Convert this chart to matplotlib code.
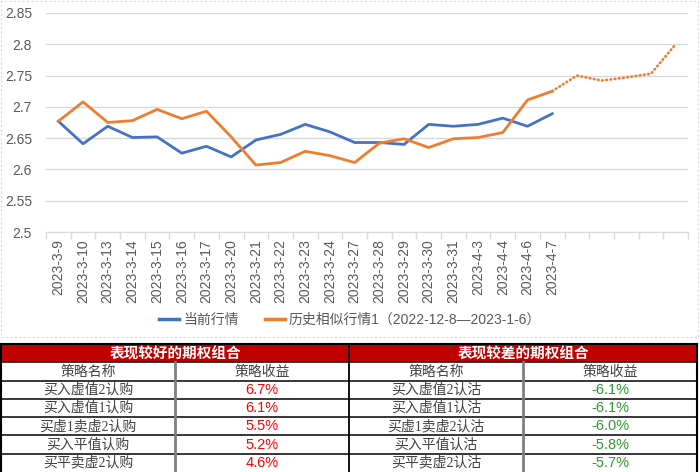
import matplotlib
matplotlib.use("Agg")
import matplotlib.pyplot as plt
from matplotlib.lines import Line2D
from matplotlib.patches import Rectangle
from matplotlib.ticker import FuncFormatter, FixedLocator

plt.rcParams['font.family'] = ['Liberation Sans', 'Noto Sans CJK SC', 'DejaVu Sans']

# ---- data ----
dates = ['2023-3-9', '2023-3-10', '2023-3-13', '2023-3-14', '2023-3-15', '2023-3-16',
         '2023-3-17', '2023-3-20', '2023-3-21', '2023-3-22', '2023-3-23', '2023-3-24',
         '2023-3-27', '2023-3-28', '2023-3-29', '2023-3-30', '2023-3-31', '2023-4-3',
         '2023-4-4', '2023-4-6', '2023-4-7']
n_blank = 5  # empty categories after the last date

current = [2.677, 2.641, 2.669, 2.651, 2.652, 2.626, 2.637, 2.620, 2.647, 2.656, 2.672,
           2.660, 2.643, 2.643, 2.640, 2.672, 2.669, 2.672, 2.682, 2.669, 2.689]
history = [2.677, 2.708, 2.675, 2.678, 2.696, 2.681, 2.693, 2.652, 2.607, 2.611, 2.629,
           2.622, 2.611, 2.642, 2.649, 2.635, 2.649, 2.651, 2.659, 2.711, 2.725]
history_future = [2.750, 2.742, 2.747, 2.753, 2.800]

label_cur = '当前行情'
label_hist = '历史相似行情1（2022-12-8—2023-1-6）'

good_title = '表现较好的期权组合'
bad_title = '表现较差的期权组合'
col_names = ['策略名称', '策略收益']
good_names = ['买入虚值2认购', '买入虚值1认购', '买虚1卖虚2认购', '买入平值认购', '买平卖虚2认购']
good_ret = ['6.7%', '6.1%', '5.5%', '5.2%', '4.6%']
bad_names = ['买入虚值2认沽', '买入虚值1认沽', '买虚1卖虚2认沽', '买入平值认沽', '买平卖虚2认沽']
bad_ret = ['-6.1%', '-6.1%', '-6.0%', '-5.8%', '-5.7%']

BLUE = '#4472C4'
ORANGE = '#ED7D31'
GRID = '#D9D9D9'
TXT = '#595959'

W, H = 700, 472
fig = plt.figure(figsize=(W / 100, H / 100), dpi=100)

# dashed frame of the chart area
fig.patches.append(Rectangle((1 / W, 1 - 337 / H), 697 / W, 336 / H, transform=fig.transFigure,
                             fill=False, ec=GRID, lw=0.8, ls=(0, (2, 2))))

# ---- line chart ----
ax = fig.add_axes([46 / W, 1 - 232 / H, 642 / W, 219 / H])
x_all = list(range(len(dates) + n_blank))
x_cur = x_all[:len(dates)]
x_fut = x_all[len(dates) - 1:]

ax.plot(x_cur, current, color=BLUE, lw=2, solid_joinstyle='round')
ax.plot(x_cur, history, color=ORANGE, lw=2, solid_joinstyle='round')
ax.plot(x_fut, [history[-1]] + history_future, color=ORANGE, lw=1.9,
        ls=(0, (0.3, 1.3)), dash_capstyle='round')

ax.set_xlim(-0.5, len(x_all) - 0.5)
ax.set_ylim(2.5, 2.85)
ax.set_yticks([2.5, 2.55, 2.6, 2.65, 2.7, 2.75, 2.8, 2.85])
ax.yaxis.set_major_formatter(FuncFormatter(lambda v, p: '%g' % round(v, 2)))
ax.grid(axis='y', color=GRID, lw=1)
ax.set_axisbelow(True)
for s in ['left', 'right', 'top']:
    ax.spines[s].set_visible(False)
ax.spines['bottom'].set_color(GRID)
ax.tick_params(axis='y', length=0, pad=10, labelsize=10, labelcolor=TXT)

ax.set_xticks(x_cur)
ax.set_xticklabels(dates, rotation=90, va='top', ha='center')
ax.xaxis.set_minor_locator(FixedLocator([i - 0.5 for i in range(len(x_all) + 1)]))
ax.tick_params(axis='x', which='major', length=0, pad=5, labelsize=10, labelcolor=TXT)
ax.tick_params(axis='x', which='minor', length=5, color=GRID, width=1)

handles = [Line2D([], [], color=BLUE, lw=2.5), Line2D([], [], color=ORANGE, lw=2.5)]
fig.legend(handles, [label_cur, label_hist], loc='center', bbox_to_anchor=(350 / W, 1 - 320 / H),
           ncol=2, frameon=False, fontsize=10, labelcolor=TXT, handlelength=1.45,
           handletextpad=0.25, columnspacing=1.9)

# ---- table ----
tb = fig.add_axes([1 / W, 0, 696 / W, 128 / H])
tb.set_xlim(0, 4)
tb.set_ylim(7, 0)
tb.axis('off')

for k, title in enumerate([good_title, bad_title]):
    tb.add_patch(Rectangle((2 * k, 0), 2, 1, fc='#C00000', ec='none'))
    tb.text(2 * k + 1, 0.52, title, color='white', fontsize=10.5, fontweight='bold',
            ha='center', va='center', family=['Noto Sans CJK SC'])
    for j, name in enumerate(col_names):
        tb.text(2 * k + j + 0.5, 1.52, name, color='#404040', fontsize=10,
                ha='center', va='center', family=['Noto Sans CJK SC'])

for i in range(len(good_names)):
    y = 2.5 + i
    tb.text(0.5, y, good_names[i], color='#404040', fontsize=10, ha='center', va='center',
            family=['Liberation Serif', 'Noto Sans CJK SC'])
    tb.text(1.5, y, good_ret[i], color='#FF0000', fontsize=10.5, ha='center', va='center')
    tb.text(2.5, y, bad_names[i], color='#404040', fontsize=10, ha='center', va='center',
            family=['Liberation Serif', 'Noto Sans CJK SC'])
    tb.text(3.5, y, bad_ret[i], color='#2E9B2E', fontsize=10.5, ha='center', va='center')

# grid lines of the table
tb.plot([0, 4], [0, 0], color='black', lw=1.5, clip_on=False)
for r in range(1, 7):
    tb.plot([0, 4], [r, r], color='#262626', lw=1.3, clip_on=False)
tb.plot([0, 0], [0, 7], color='black', lw=1.5, clip_on=False)
tb.plot([4, 4], [0, 7], color='black', lw=1.5, clip_on=False)
tb.plot([2, 2], [0, 7], color='black', lw=1.3, clip_on=False)
for c in [1, 3]:
    tb.plot([c, c], [1, 7], color='#808080', lw=2, clip_on=False)

fig.savefig('out.png', dpi=100)
